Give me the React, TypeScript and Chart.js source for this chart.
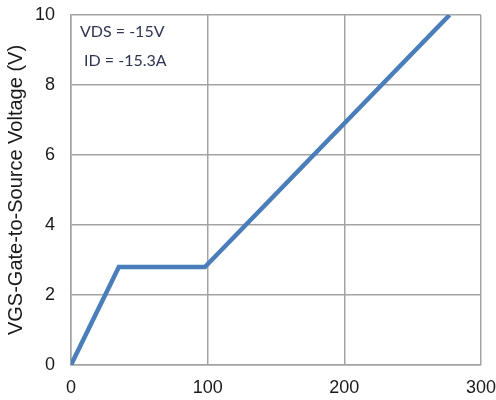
import React, { useEffect, useRef } from "react";
import { Chart, registerables } from "chart.js";

Chart.register(...registerables);

const chargeNC: number[] = [0, 35, 98, 277];
const vgsVolts: number[] = [0, 2.8, 2.8, 10];
const xTicks: number[] = [0, 100, 200, 300];
const yTitle = "VGS-Gate-to-Source Voltage (V)";
const noteLines: string[] = ["VDS = -15V", " ID = -15.3A"];

const notePlugin = {
  id: "notePlugin",
  afterDraw(chart: any) {
    const { ctx, chartArea } = chart;
    ctx.save();
    ctx.font = "16px Lato, 'Open Sans', sans-serif";
    ctx.fillStyle = "#2e3550";
    ctx.textAlign = "left";
    ctx.textBaseline = "middle";
    noteLines.forEach((t, i) => {
      ctx.fillText(t, chartArea.left + 9, chartArea.top + 17 + i * 29);
    });
    ctx.restore();
  },
};

export default function App() {
  const ref = useRef<HTMLCanvasElement | null>(null);
  useEffect(() => {
    if (!ref.current) return;
    const chart = new Chart(ref.current, {
      type: "scatter",
      data: {
        datasets: [
          {
            data: chargeNC.map((x, i) => ({ x, y: vgsVolts[i] })),
            showLine: true,
            borderColor: "#4a7ebb",
            backgroundColor: "#4a7ebb",
            borderWidth: 4.5,
            pointRadius: 0,
            tension: 0,
          },
        ],
      },
      options: {
        animation: false,
        responsive: true,
        maintainAspectRatio: false,
        layout: { padding: { top: 15, right: 0, left: 0, bottom: 0 } },
        plugins: { legend: { display: false }, tooltip: { enabled: false } },
        scales: {
          x: {
            type: "linear",
            min: 0,
            max: 300,
            afterBuildTicks: (s: any) => {
              s.ticks = xTicks.map((v) => ({ value: v }));
            },
            afterFit: (s: any) => {
              s.height = 35;
            },
            grid: {
              color: "#a3a3a3",
              lineWidth: 1.5,
              drawTicks: true,
              tickLength: 12,
              tickColor: "rgba(0,0,0,0)",
            },
            border: { color: "#a3a3a3", width: 1.5 },
            ticks: {
              padding: 0,
              color: "#1a1a1a",
              maxRotation: 0,
              font: { family: "'Liberation Sans', Arial, sans-serif", size: 18 },
            },
          },
          y: {
            type: "linear",
            min: 0,
            max: 10,
            ticks: {
              stepSize: 2,
              padding: 3,
              color: "#1a1a1a",
              font: { family: "'Liberation Sans', Arial, sans-serif", size: 18 },
            },
            afterFit: (s: any) => {
              s.width = 71;
            },
            grid: {
              color: "#a3a3a3",
              lineWidth: 1.5,
              drawTicks: true,
              tickLength: 13,
              tickColor: "rgba(0,0,0,0)",
            },
            border: { color: "#a3a3a3", width: 1.5 },
            title: {
              display: true,
              text: yTitle,
              color: "#1a1a1a",
              padding: { top: 4, bottom: 0 },
              font: { family: "'Liberation Sans', Arial, sans-serif", size: 20 },
            },
          },
        },
      },
      plugins: [notePlugin],
    } as any);
    return () => chart.destroy();
  }, []);
  return (
    <div style={{ position: "absolute", left: 0, top: 0, width: 496, height: 400 }}>
      <canvas ref={ref} />
    </div>
  );
}
